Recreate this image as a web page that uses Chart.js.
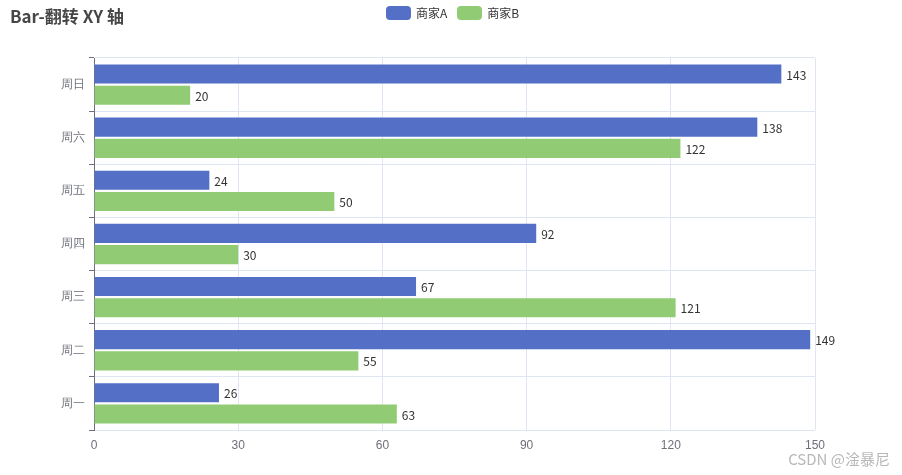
<!DOCTYPE html>
<html><head><meta charset="utf-8">
<script src="https://cdn.jsdelivr.net/npm/chart.js@4"></script>
<style>
body{margin:0;background:#fff;font-family:"Microsoft YaHei","Noto Sans CJK SC",sans-serif;}
#wrap{position:relative;width:902px;height:475px;}
#title{position:absolute;left:10px;top:3px;font-size:17px;font-weight:bold;color:#464646;}
#legend{position:absolute;left:386px;top:4px;font-size:12px;color:#333;display:flex;gap:10px;}
.li{display:flex;align-items:center;gap:5px;}
.sw{width:25px;height:14px;border-radius:4px;display:inline-block;}
#wm{position:absolute;right:12px;bottom:6px;font-size:15px;color:#b8b8b8;}
</style></head><body>
<div id="wrap">
<canvas id="c" width="902" height="475"></canvas>
<div id="title">Bar-翻转 XY 轴</div>
<div id="legend"><span class="li"><span class="sw" style="background:#5470c6"></span>商家A</span><span class="li"><span class="sw" style="background:#91cc75"></span>商家B</span></div>
<div id="wm">CSDN @淦暴尼</div>
</div>
<script>
const categories=['周一','周二','周三','周四','周五','周六','周日'];
const seriesA=[26,149,67,92,24,138,143];
const seriesB=[63,55,121,30,50,122,20];
const xTicks=[0,30,60,90,120,150];
const labelPlugin={id:'lbl',afterDatasetsDraw(ch){const c=ch.ctx;c.save();c.font='12px "Microsoft YaHei","Noto Sans CJK SC",sans-serif';c.fillStyle='#333';c.textBaseline='middle';
ch.data.datasets.forEach((d,i)=>{ch.getDatasetMeta(i).data.forEach((b,j)=>{c.fillText(d.data[j],b.x+5,b.y+1);});});c.restore();}};
new Chart(document.getElementById('c'),{type:'bar',
data:{labels:categories,datasets:[
{label:'商家A',data:seriesA,backgroundColor:'#5470c6'},
{label:'商家B',data:seriesB,backgroundColor:'#91cc75'}]},
options:{indexAxis:'y',responsive:false,animation:false,devicePixelRatio:1,
layout:{padding:{top:58,right:87,left:0,bottom:0}},
categoryPercentage:0.8,barPercentage:0.9,
plugins:{legend:{display:false},tooltip:{enabled:false}},
scales:{
x:{min:0,max:150,afterBuildTicks(s){s.ticks=xTicks.map(v=>({value:v}));},
grid:{color:'#e0e6f1',drawTicks:false},border:{display:false},
ticks:{color:'#6e7079',padding:8,font:{size:12}},afterFit(s){s.height=45;}},
y:{reverse:true,grid:{color:'#e0e6f1',offset:true,tickLength:5,tickColor:'#6e7079'},
border:{color:'#6e7079'},ticks:{color:'#6e7079',padding:4,font:{size:12}},afterFit(s){s.width=94;}}
}},plugins:[labelPlugin]});
</script></body></html>
